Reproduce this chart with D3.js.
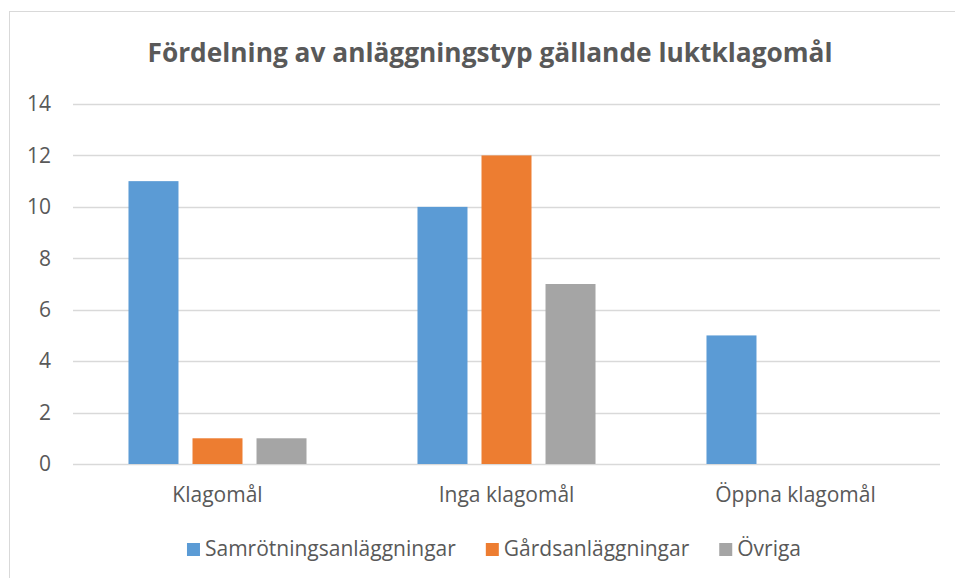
<!DOCTYPE html>
<html>
<head>
<meta charset="utf-8">
<script src="https://cdn.jsdelivr.net/npm/d3@7"></script>
<style>
  body { margin: 0; background: #fff; }
  svg { display: block; }
</style>
</head>
<body>
<div id="chart"></div>
<script>
const categories = ["Klagomål", "Inga klagomål", "Öppna klagomål"];
const seriesNames = ["Samrötningsanläggningar", "Gårdsanläggningar", "Övriga"];
const seriesColors = ["#5B9BD5", "#ED7D31", "#A5A5A5"];
const samrotning = [11, 10, 5];
const gards = [1, 12, 0];
const ovriga = [1, 7, 0];
const yTicks = [0, 2, 4, 6, 8, 10, 12, 14];
const title = "Fördelning av anläggningstyp gällande luktklagomål";

const width = 955, height = 578;
const margin = { top: 104, left: 73, bottom: 114, right: 15 };
const font = "'Open Sans', 'Noto Sans', sans-serif";
const textColor = "#595959";

const values = [samrotning, gards, ovriga];
const table = categories.map((c, i) => ({
    category: c,
    values: seriesNames.map((s, j) => ({ series: s, value: values[j][i], color: seriesColors[j] }))
}));

const svg = d3.select("#chart")
    .append("svg")
    .attr("width", width)
    .attr("height", height);

// chart frame
svg.append("rect")
    .attr("x", 9.5)
    .attr("y", 11.5)
    .attr("width", 970)
    .attr("height", 600)
    .style("fill", "none")
    .style("stroke", "#d9d9d9")
    .style("stroke-width", "1px");

const g = svg.append("g")
    .attr("transform", "translate(" + margin.left + "," + margin.top + ")");

const innerW = width - margin.left - margin.right;
const innerH = height - margin.top - margin.bottom;

// scales
const x0 = d3.scaleBand().domain(categories).range([0, innerW]).padding(0);
const groupPad = x0.bandwidth() * 0.192;
const x1 = d3.scaleBand().domain(seriesNames)
    .range([groupPad, x0.bandwidth() - groupPad])
    .paddingInner(0.219);
const y = d3.scaleLinear().domain([0, 14]).range([innerH, 0]);

// gridlines
g.append("g")
    .attr("class", "grid")
    .selectAll("line")
    .data(yTicks)
    .join("line")
    .attr("x1", 0)
    .attr("x2", innerW)
    .attr("y1", d => Math.round(y(d)) + 0.5)
    .attr("y2", d => Math.round(y(d)) + 0.5)
    .style("stroke", "#d9d9d9")
    .style("stroke-width", "1.5px");

// bars
g.append("g")
    .selectAll("g")
    .data(table)
    .join("g")
    .attr("transform", d => "translate(" + x0(d.category) + ",0)")
    .selectAll("rect")
    .data(d => d.values.filter(v => v.value > 0))
    .join("rect")
    .attr("x", d => x1(d.series))
    .attr("y", d => y(d.value))
    .attr("width", x1.bandwidth())
    .attr("height", d => y(0) - y(d.value))
    .style("fill", d => d.color);

// y axis labels
g.append("g")
    .attr("transform", "translate(-22,0)")
    .call(d3.axisLeft(y).tickValues(yTicks).tickSize(0).tickPadding(0))
    .call(a => a.select(".domain").remove())
    .selectAll("text")
    .style("font-family", font)
    .style("font-size", "21px")
    .style("fill", textColor);

// x axis labels
g.append("g")
    .attr("transform", "translate(0," + innerH + ")")
    .call(d3.axisBottom(x0).tickSize(0).tickPadding(23))
    .call(a => a.select(".domain").remove())
    .selectAll("text")
    .style("font-family", font)
    .style("font-size", "21px")
    .style("fill", textColor);

// title
svg.append("text")
    .attr("x", 490)
    .attr("y", 62)
    .style("text-anchor", "middle")
    .style("font-family", font)
    .style("font-size", "26.3px")
    .style("font-weight", "700")
    .style("fill", textColor)
    .text(title);

// legend
const legend = svg.append("g").attr("transform", "translate(0,549)");
const items = legend.selectAll("g")
    .data(seriesNames)
    .join("g");
items.append("rect")
    .attr("y", -6)
    .attr("width", 13)
    .attr("height", 13)
    .style("fill", (d, i) => seriesColors[i]);
items.append("text")
    .attr("x", 18)
    .attr("y", 7)
    .style("font-family", font)
    .style("font-size", "21px")
    .style("fill", textColor)
    .text(d => d);

const gap = 30;
const widths = [];
items.each(function () { widths.push(18 + this.querySelector("text").getComputedTextLength()); });
const total = d3.sum(widths) + gap * (widths.length - 1);
let cx = 494 - total / 2;
items.attr("transform", (d, i) => {
    const t = "translate(" + cx + ",0)";
    cx += widths[i] + gap;
    return t;
});
</script>
</body>
</html>
